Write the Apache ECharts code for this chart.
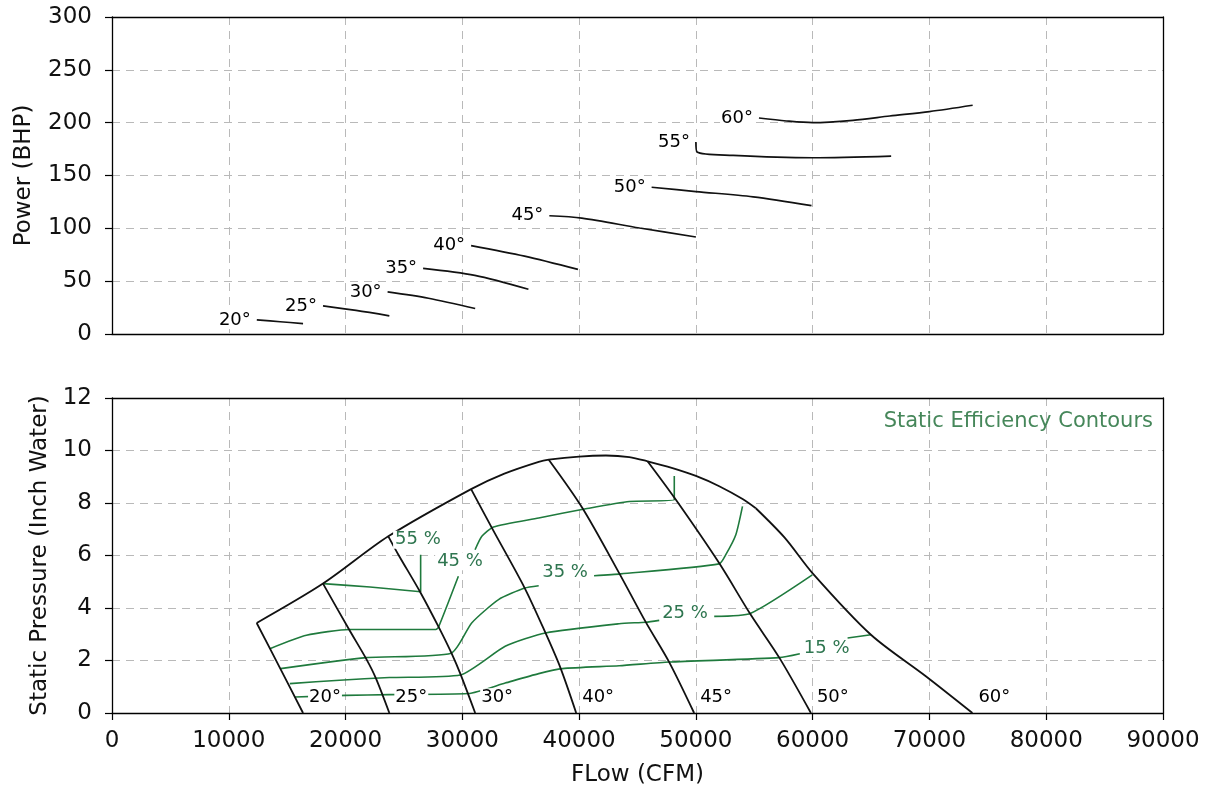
<!DOCTYPE html>
<html>
<head>
<meta charset="utf-8">
<title>Fan performance: power and static pressure vs flow</title>
<script src="https://cdn.jsdelivr.net/npm/echarts@6/dist/echarts.min.js"></script>
<style>
  html, body { margin: 0; padding: 0; background: #ffffff; }
  #chart { width: 1211px; height: 793px; }
</style>
</head>
<body>
<div id="chart"></div>
<script>
// ---- Axis ranges ----
const flowRange = [0, 90000, 10000];      // CFM
const powerRange = [0, 300, 50];          // BHP
const pressureRange = [0, 12, 2];         // inch water

// ---- Shaft power per blade angle: [flow CFM, power BHP] ----
const power20 = [[12400, 13.3], [14400, 11.6], [16360, 9.9]];
const power25 = [[18070, 26.6], [20900, 22.3], [23750, 17.2]];
const power30 = [[23600, 39.8], [27100, 33.8], [31100, 24.1]];
const power35 = [[26640, 62.1], [31070, 55.5], [35660, 42.3]];
const power40 = [[30750, 83.7], [35330, 73.7], [39900, 61.1]];
const power45 = [[37450, 111.9], [40230, 109.7], [45180, 100.3], [50000, 91.8]];
const power50 = [[46210, 138.9], [50000, 134.8], [54900, 129.8], [59900, 121.5]];
const power55 = [[50000, 181.6], [50100, 172.2], [53190, 169.0], [60000, 166.8], [66720, 168.4]];
const power60 = [[55400, 204.4], [57750, 201.6], [60000, 200.0], [63450, 202.2], [66600, 206.3], [70000, 210.5], [73700, 216.5]];

// ---- Static pressure per blade angle: [flow CFM, pressure inH2O] ----
const pressure20 = [[12390, 3.43], [14400, 1.70], [16360, 0]];
const pressure25 = [[18070, 4.93], [20340, 3.15], [21760, 2.07], [22610, 1.31], [23750, 0]];
const pressure30 = [[23660, 6.73], [24500, 6.05], [26400, 4.60], [28000, 3.25], [29100, 2.25], [29850, 1.47], [31100, 0]];
const pressure40 = [[30750, 8.53], [32530, 7.05], [35340, 4.76], [37120, 3.05], [38410, 1.71], [39750, 0]];
const pressure45 = [[37400, 9.65], [40280, 7.81], [43430, 5.33], [45710, 3.46], [47710, 1.94], [49850, 0]];
const pressure50 = [[45860, 9.59], [48290, 8.12], [51990, 5.71], [54700, 3.74], [57140, 2.11], [59850, 0]];
const pressure60 = [[55130, 7.80], [57600, 6.68], [60000, 5.32], [64990, 2.98], [69690, 1.40], [73680, 0]];

// Stall limit joining the tops of the pressure curves
const stallLimit = [[12390, 3.43], [18070, 4.93], [23660, 6.73], [30750, 8.53], [33600, 9.12], [36540, 9.57],
  [37400, 9.65], [40000, 9.77], [42300, 9.81], [44300, 9.75], [45860, 9.59], [48000, 9.33], [50000, 9.03],
  [52000, 8.64], [54000, 8.15], [55130, 7.80]];

// ---- Static efficiency contours (pieces are split where the level label sits) ----
const eff15 = [
  [[15680, 0.61], [20000, 0.67], [23750, 0.70], [30500, 0.74], [33670, 1.14], [36540, 1.50], [38570, 1.69],
   [43430, 1.80], [47710, 1.94], [57140, 2.11], [58900, 2.26]],
  [[62990, 2.86], [64990, 2.98]]
];
const eff25 = [
  [[15230, 1.12], [19490, 1.25], [23750, 1.35], [29830, 1.45], [33670, 2.54], [37120, 3.05], [43430, 3.40],
   [45710, 3.46], [46860, 3.53]],
  [[51570, 3.68], [54700, 3.80], [59970, 5.26]]
];
const eff35 = [
  [[14430, 1.69], [21760, 2.11], [29050, 2.28], [30800, 3.43], [33100, 4.32], [35340, 4.76], [36540, 4.85]],
  [[41280, 5.23], [43570, 5.30], [51990, 5.68], [52560, 6.03], [53420, 6.79], [53990, 7.87]]
];
const eff45 = [
  [[13520, 2.45], [16650, 2.96], [20340, 3.18], [27730, 3.18], [27950, 3.26], [29660, 5.21]],
  [[31090, 6.22], [31670, 6.73], [32670, 7.09], [36540, 7.43], [40570, 7.78], [44300, 8.06], [48150, 8.12], [48150, 9.03]]
];
const eff55 = [
  [[18070, 4.93], [22090, 4.80], [26430, 4.62], [26430, 6.03]]
];

// Contour level labels: text and anchor [flow, pressure]
const effLabelText = ['55 %', '45 %', '35 %', '25 %', '15 %'];
const effLabelAt = [[26200, 6.60], [29800, 5.78], [38800, 5.36], [49070, 3.78], [61200, 2.48]];

// ---- Curve sets for each panel ----
const powerCurves = [
  ['20°', power20], ['25°', power25], ['30°', power30], ['35°', power35], ['40°', power40],
  ['45°', power45], ['50°', power50], ['55°', power55], ['60°', power60]
];
const pressureCurves = [
  ['20°', pressure20], ['25°', pressure25], ['30°', pressure30], ['40°', pressure40],
  ['45°', pressure45], ['50°', pressure50], ['60°', pressure60]
];
const effContours = [eff15, eff25, eff35, eff45, eff55];

// ---- Styling ----
const FONT = 'DejaVu Sans, Verdana, sans-serif';
const INK = '#111111';
const GREEN = '#1f7a3d';
const GREEN_TEXT = '#2f7650';
const GRID_LINE = { color: '#b9b9b9', width: 1, type: [8, 6] };
const FRAME = { color: '#000', width: 1.3 };
const ANGLE_LABEL_HEIGHT = 0.6;   // pressure level at which the blade-angle tags sit

function curve(data, axis, color, width, z, smooth) {
  return {
    type: 'line', xAxisIndex: axis, yAxisIndex: axis, data: data,
    symbol: 'none', showSymbol: false, smooth: smooth, silent: true, z: z,
    lineStyle: { color: color, width: width }, emphasis: { disabled: true }
  };
}

// text-only series: an invisible point carrying a label
function tagSeries(axis, items, position, color) {
  return {
    type: 'scatter', xAxisIndex: axis, yAxisIndex: axis, silent: true, z: 20,
    symbol: 'circle', symbolSize: 0, itemStyle: { color: '#ffffff' },
    data: items,
    label: {
      show: true, position: position, distance: 5, formatter: '{b}',
      color: color, opacity: 1, fontSize: 18, fontFamily: FONT, lineHeight: 18,
      backgroundColor: '#ffffff', padding: [0, 1]
    },
    emphasis: { disabled: true }
  };
}

const series = [];
// upper panel: power curves with angle tags at their start
powerCurves.forEach(function (c) { series.push(curve(c[1], 0, INK, 1.7, 5, 0.3)); });
series.push(tagSeries(0, powerCurves.map(function (c) { return { name: c[0], value: c[1][0] }; }), 'left', '#000000'));

// lower panel: efficiency contours, pressure curves, stall limit
effContours.forEach(function (level) {
  level.forEach(function (piece) { series.push(curve(piece, 1, GREEN, 1.6, 3, 0.2)); });
});
pressureCurves.forEach(function (c) { series.push(curve(c[1], 1, INK, 1.8, 5, 0.3)); });
series.push(curve(stallLimit, 1, INK, 1.8, 5, 0.3));
series.push(tagSeries(1, pressureCurves.map(function (c) {
  const last = c[1][c[1].length - 1];
  return { name: c[0], value: [last[0], ANGLE_LABEL_HEIGHT] };
}), 'right', '#000000'));
series.push(Object.assign(tagSeries(1, effLabelText.map(function (t, i) {
  return { name: t, value: effLabelAt[i] };
}), 'inside', GREEN_TEXT), {}));
series[series.length - 1].label.padding = [0, 2];

const plainNumber = function (v) { return String(v); };

function valueAxis(range, grid, extra) {
  const base = {
    type: 'value', gridIndex: grid, min: range[0], max: range[1], interval: range[2],
    axisLine: { show: true, onZero: false, lineStyle: FRAME },
    axisTick: { show: true, inside: false, length: 7, lineStyle: { color: '#000', width: 1.2 } },
    axisLabel: { show: true, color: '#111', fontSize: 23, fontFamily: FONT, formatter: plainNumber },
    splitLine: { show: true, lineStyle: GRID_LINE },
    nameTextStyle: { color: '#111', fontSize: 23, fontFamily: FONT }
  };
  return Object.assign(base, extra || {});
}

// closing edge of a panel frame (top or right)
function frameEdge(range, grid, position) {
  return {
    type: 'value', gridIndex: grid, position: position, min: range[0], max: range[1], interval: range[2],
    axisLine: { show: true, onZero: false, lineStyle: FRAME },
    axisTick: { show: false }, axisLabel: { show: false }, splitLine: { show: false }
  };
}

const option = {
  animation: false,
  backgroundColor: '#ffffff',
  textStyle: { fontFamily: FONT },
  title: {
    text: 'Static Efficiency Contours', right: 58, top: 411, padding: 0,
    textStyle: { color: '#46875a', fontSize: 21, fontWeight: 'normal', fontFamily: FONT }
  },
  grid: [
    { left: 112, right: 48, top: 17, height: 317 },
    { left: 112, right: 48, top: 398, height: 315 }
  ],
  xAxis: [
    valueAxis(flowRange, 0, {
      axisLabel: { show: false }, axisTick: { show: false }
    }),
    valueAxis(flowRange, 1, {
      name: 'FLow (CFM)', nameLocation: 'middle', nameGap: 51,
      axisLabel: { show: true, color: '#111', fontSize: 23, fontFamily: FONT, margin: 17, formatter: plainNumber }
    }),
    frameEdge(flowRange, 0, 'top'),
    frameEdge(flowRange, 1, 'top')
  ],
  yAxis: [
    valueAxis(powerRange, 0, {
      name: 'Power (BHP)', nameLocation: 'middle', nameGap: 76,
      axisLabel: { show: true, color: '#111', fontSize: 23, fontFamily: FONT, margin: 20, formatter: plainNumber }
    }),
    valueAxis(pressureRange, 1, {
      name: 'Static Pressure (Inch Water)', nameLocation: 'middle', nameGap: 55,
      axisLabel: { show: true, color: '#111', fontSize: 23, fontFamily: FONT, margin: 20, formatter: plainNumber }
    }),
    frameEdge(powerRange, 0, 'right'),
    frameEdge(pressureRange, 1, 'right')
  ],
  series: series
};

const chart = echarts.init(document.getElementById('chart'), null, { renderer: 'canvas' });
chart.setOption(option);
</script>
</body>
</html>
